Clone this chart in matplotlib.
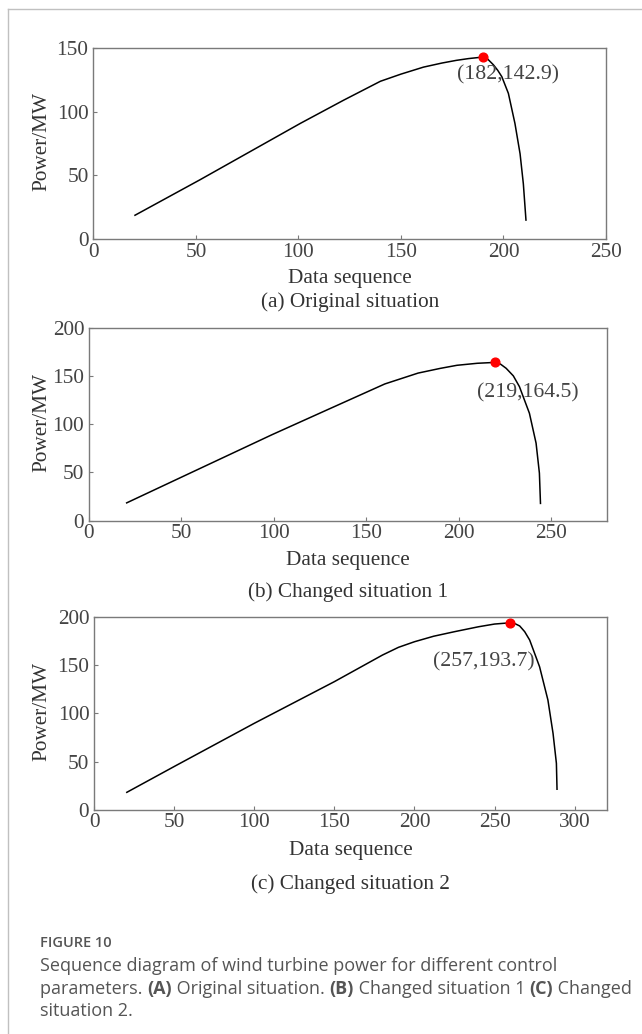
import matplotlib
matplotlib.use("Agg")
import matplotlib.pyplot as plt
from matplotlib.lines import Line2D

# ---------------- data ----------------
seq_a = [20, 52, 101, 122, 140, 150, 161, 170, 177, 183, 190, 192.5, 195.1, 197.2, 199.2, 202.4, 205.6, 208.1, 209.7, 211]
power_a = [18.5, 46.6, 90.9, 109, 123.9, 129.5, 135, 138.2, 140.3, 141.7, 142.9, 141.0, 136.8, 132.5, 127.5, 114.4, 90.8, 67, 43.4, 14.4]
peak_a = (190, 142.9)
label_a = "(182,142.9)"

seq_b = [20, 52, 99, 129, 160, 178, 190, 199, 210, 219.5, 222.5, 225.6, 229.5, 232.8, 238.2, 241.8, 243.6, 244.2]
power_b = [18, 46.9, 89.3, 115.3, 142.1, 153.4, 158.3, 161.5, 163.6, 164.5, 162.8, 158.4, 150.5, 139.3, 111.6, 80.5, 49.3, 17]
peak_b = (219.5, 164.5)
label_b = "(219,164.5)"

seq_c = [20, 51, 100, 150, 180, 190, 200, 212, 225, 240, 250, 259.7, 262.5, 265.7, 268.8, 271.9, 278.1, 283.3, 286.5, 288.6, 289]
power_c = [17.9, 45.9, 89.7, 132.8, 160.3, 168.3, 174.1, 179.8, 184.5, 189.6, 192.4, 193.7, 193.0, 190.4, 184.5, 175.9, 148.2, 113.8, 79.3, 48.3, 20.7]
peak_c = (259.7, 193.7)
label_c = "(257,193.7)"

titles = ["(a) Original situation", "(b) Changed situation 1", "(c) Changed situation 2"]
xlims = [250, 280, 320]
ylims = [150, 200, 200]
xticks = [[0, 50, 100, 150, 200, 250], [0, 50, 100, 150, 200, 250], [0, 50, 100, 150, 200, 250, 300]]
yticks = [[0, 50, 100, 150], [0, 50, 100, 150, 200], [0, 50, 100, 150, 200]]
ann_pos = [(202.3, 128.6), (237.1, 132.7), (243.2, 152.8)]

W, H = 642, 1034
fig = plt.figure(figsize=(W / 100, H / 100), dpi=100)
fig.patch.set_facecolor("white")

serif = ["Liberation Serif", "DejaVu Serif"]
FS = 15.3
TXT = "#444444"
SP = "#7a7a7a"

# axes rectangles in pixels: left, right, top, bottom
rects = [(93.3, 606.0, 48.0, 239.2), (89.0, 606.7, 328.3, 520.5), (94.1, 606.7, 616.7, 810.0)]
xlab_y = [278, 561, 851]
title_y = [302, 592, 884]

series = [(seq_a, power_a, peak_a, label_a), (seq_b, power_b, peak_b, label_b), (seq_c, power_c, peak_c, label_c)]

for i, (l, r, t, b) in enumerate(rects):
    ax = fig.add_axes([l / W, 1 - b / H, (r - l) / W, (b - t) / H])
    xs, ys, pk, lab = series[i]
    ax.plot(xs, ys, color="black", lw=1.1, solid_capstyle="butt", solid_joinstyle="round")
    ax.plot([pk[0]], [pk[1]], "o", color="#ff0000", ms=6.3, mec="#ff0000")
    ax.text(ann_pos[i][0], ann_pos[i][1], lab, ha="center", va="center",
            fontsize=FS + 0.4, family=serif, color=TXT)
    ax.set_xlim(0, xlims[i])
    ax.set_ylim(0, ylims[i])
    ax.set_xticks(xticks[i])
    ax.set_yticks(yticks[i])
    ax.tick_params(direction="in", length=3, width=0.8, color=SP, labelcolor=TXT,
                   labelsize=FS)
    ax.tick_params(axis="y", pad=3.5)
    ax.tick_params(axis="x", pad=2.5)
    for lbl in ax.get_xticklabels() + ax.get_yticklabels():
        lbl.set_fontfamily(serif)
    for s in ax.spines.values():
        s.set_color(SP)
        s.set_linewidth(1.0)
    cx = (l + r) / 2
    fig.text(cx / W, 1 - xlab_y[i] / H, "Data sequence", ha="center", va="center",
             fontsize=FS, family=serif, color="#333333")
    fig.text(cx / W, 1 - title_y[i] / H, titles[i], ha="center", va="center",
             fontsize=FS, family=serif, color="#333333")
    fig.text(42 / W, 1 - ((t + b) / 2 - 2) / H, "Power/MW", ha="center", va="center",
             rotation=90, fontsize=FS, family=serif, color="#333333")

# page border
fig.add_artist(Line2D([7.5 / W, 7.5 / W], [0, 1 - 8.5 / H], transform=fig.transFigure,
                      color="#c0c0c0", lw=1.0))
fig.add_artist(Line2D([7.5 / W, 1], [1 - 8.5 / H, 1 - 8.5 / H], transform=fig.transFigure,
                      color="#c0c0c0", lw=1.0))

# caption
cap_font = ["Open Sans", "DejaVu Sans"]
CAPC = "#555555"
fig.text(40 / W, 1 - 943 / H, "FIGURE 10", ha="left", va="center", fontsize=10.5,
         family=cap_font, color=CAPC, fontweight="semibold")

lines = [
    [("Sequence diagram of wind turbine power for different control", "normal")],
    [("parameters. ", "normal"), ("(A)", "bold"), (" Original situation. ", "normal"),
     ("(B)", "bold"), (" Changed situation 1 ", "normal"), ("(C)", "bold"), (" Changed", "normal")],
    [("situation 2.", "normal")],
]
line_y = [966, 989, 1011]
fig.canvas.draw()
renderer = fig.canvas.get_renderer()
for segs, yy in zip(lines, line_y):
    x = 40.0
    for txt, wt in segs:
        tt = fig.text(x / W, 1 - yy / H, txt, ha="left", va="center", fontsize=13.0,
                      family=cap_font, color=CAPC, fontweight=wt)
        bb = tt.get_window_extent(renderer=renderer)
        x += bb.width

fig.savefig("out.png", dpi=100, facecolor="white")
